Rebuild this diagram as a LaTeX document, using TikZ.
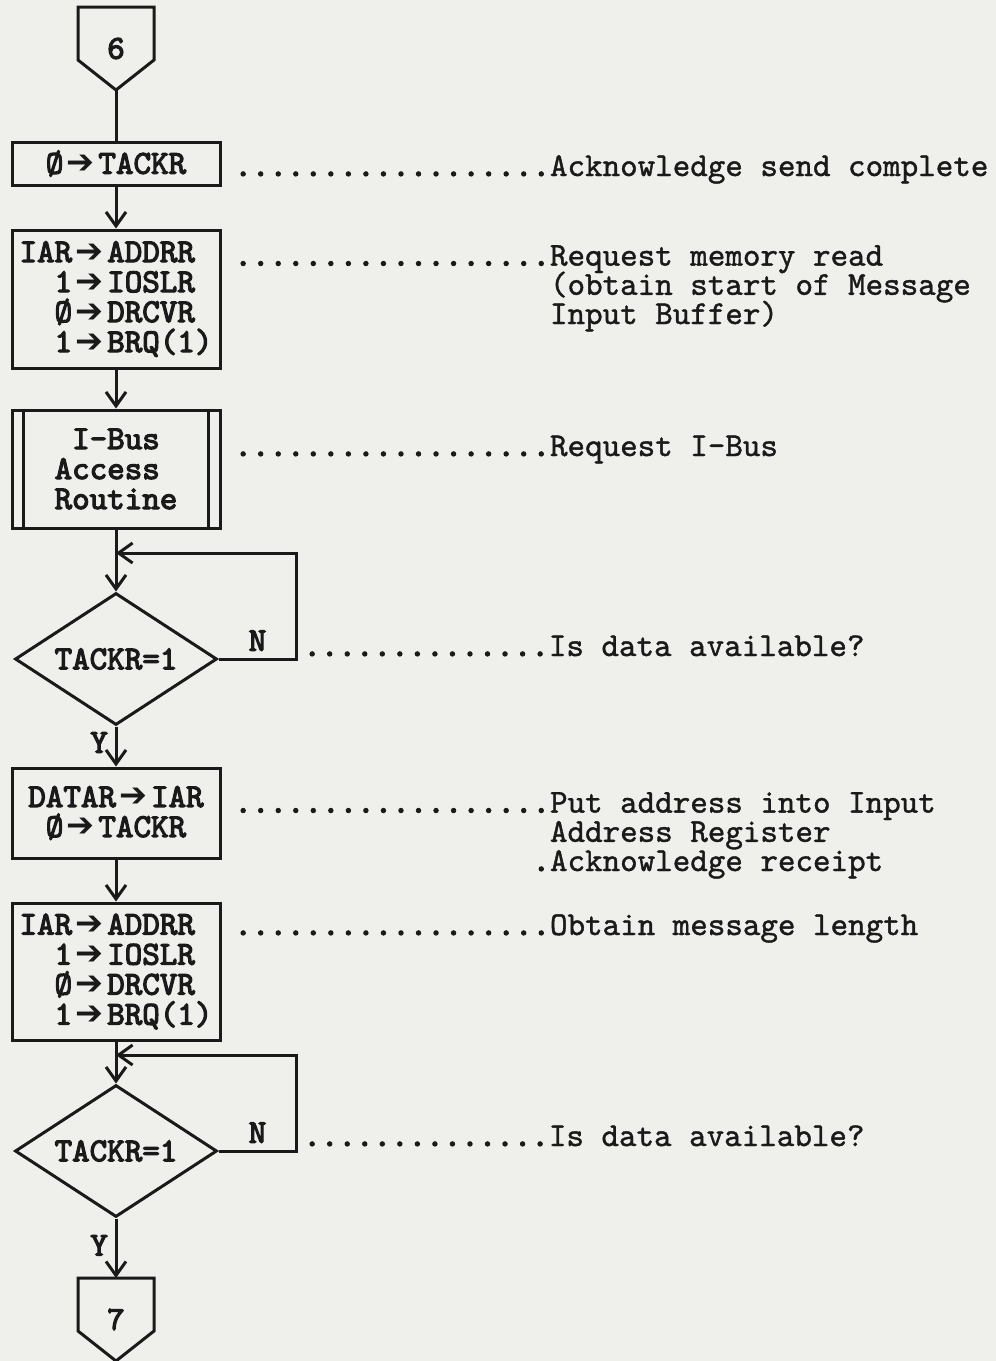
\documentclass[tikz,border=0pt]{standalone}
\usepackage{fontspec}
\usepackage{tikz}
\usetikzlibrary{
  arrows.meta,
  shapes.geometric
}
\newfontfamily\arrowfont{DejaVu Sans}
\newfontfamily\notett{lmmono10-regular.otf}[FakeBold=1.2]
\newfontfamily\boxtt{lmmono10-regular.otf}[FakeBold=3.5]
\definecolor{paper}{RGB}{239,239,236}
\definecolor{ink}{RGB}{26,26,26}
\newcommand{\ra}{\makebox[1.05em]{\arrowfont\symbol{"2794}}}
\newcommand{\lead}{{\boxtt..................}}
\newcommand{\shortlead}{{\boxtt..............}}
\newcommand{\typefont}{\notett\fontsize{16.7}{14.6}\selectfont
  \lineskiplimit=-\maxdimen}
\newcommand{\boxfont}{\boxtt\fontsize{16.7}{15}\selectfont
  \lineskiplimit=-\maxdimen}
\tikzset{
  op/.style={draw=ink,line width=1.5pt,rectangle,minimum width=104pt,
    align=left,inner sep=0pt,text=ink,font=\boxfont},
  test/.style={draw=ink,line width=1.5pt,diamond,aspect=1.53,
    minimum width=101pt,minimum height=66pt,inner sep=0pt,
    text=ink,font=\boxfont},
  offpage/.style={rectangle,minimum width=38pt,minimum height=41.5pt,
    inner sep=0pt,outer sep=0pt,text=ink,font=\boxfont},
  line/.style={draw=ink,line width=1.5pt},
  flow/.style={-{Straight Barb[length=7pt,width=10pt,line width=1.5pt]},
    draw=ink,line width=1.5pt},
  yn/.style={text=ink,font=\boxfont},
  note/.style={anchor=base west,align=left,inner sep=0pt,
    text=ink,font=\typefont}
}

\begin{document}
\begin{tikzpicture}[x=0.5pt,y=-0.5pt]
  \path[fill=paper,use as bounding box] (0,0) rectangle (996,1361);

  \node[offpage] (c6) at (116,48.5) {6};
  \draw[line] (c6.north west) -- ([yshift=15pt]c6.south west) -- (c6.south)
    -- ([yshift=15pt]c6.south east) -- (c6.north east) -- cycle;

  \node[op,minimum height=21.5pt] (b1) at (116,163.5) {Ø\ra{}TACKR};
  \node[op,minimum height=69pt] (b2) at (116,299)
    {IAR\ra{}ADDRR\\~~1\ra{}IOSLR\\~~Ø\ra{}DRCVR\\~~1\ra{}BRQ(1)};
  \node[op,minimum height=59pt] (b3) at (116,469)
    {~I-Bus\\Access\\Routine};
  \draw[line] ([xshift=6.5pt]b3.north west) -- ([xshift=6.5pt]b3.south west);
  \draw[line] ([xshift=-6.5pt]b3.north east) -- ([xshift=-6.5pt]b3.south east);
  \coordinate (j1) at (116,553);
  \node[test] (d1) at (116,659) {TACKR=1};
  \node[op,minimum height=45pt] (b4) at (116,813)
    {DATAR\ra{}IAR\\~Ø\ra{}TACKR};
  \node[op,minimum height=68.5pt] (b5) at (116,971.5)
    {IAR\ra{}ADDRR\\~~1\ra{}IOSLR\\~~Ø\ra{}DRCVR\\~~1\ra{}BRQ(1)};
  \coordinate (j2) at (116,1055);
  \node[test] (d2) at (116,1151) {TACKR=1};
  \node[offpage] (c7) at (116,1319.5) {7};
  \draw[line] (c7.north west) -- ([yshift=15pt]c7.south west) -- (c7.south)
    -- ([yshift=15pt]c7.south east) -- (c7.north east) -- cycle;

  \draw[line] (c6) -- (b1);
  \draw[flow] (b1) -- (b2);
  \draw[flow] (b2) -- (b3);
  \draw[flow] (b3) -- (d1);
  \draw[flow] (d1.east) -- node[yn,above] {N} ++(78,0) |- (j1);
  \draw[flow] (d1) -- node[yn,left,pos=0.4] {Y} (b4);
  \draw[flow] (b4) -- (b5);
  \draw[flow] (b5) -- (d2);
  \draw[flow] (d2.east) -- node[yn,above] {N} ++(78,0) |- (j2);
  \draw[flow] (d2) -- node[yn,left,pos=0.45] {Y} (c7);

  \node[note] (n1) at (234,176) {\lead Acknowledge send complete};
  \node[note] (n2) at (234,324) {\lead Request memory read\\
    \phantom{\lead}(obtain start of Message\\
    \phantom{\lead}Input Buffer)};
  \node[note] (n3) at (234,456) {\lead Request I-Bus};
  \node[note] (n4) at (303,656) {\shortlead Is data available?};
  \node[note] (n5) at (234,871) {\lead Put address into Input\\
    \phantom{\lead}Address Register\\
    \phantom{\lead}\llap{\boxtt.}Acknowledge receipt};
  \node[note] (n6) at (234,935) {\lead Obtain message length};
  \node[note] (n7) at (303,1146) {\shortlead Is data available?};
\end{tikzpicture}
\end{document}
